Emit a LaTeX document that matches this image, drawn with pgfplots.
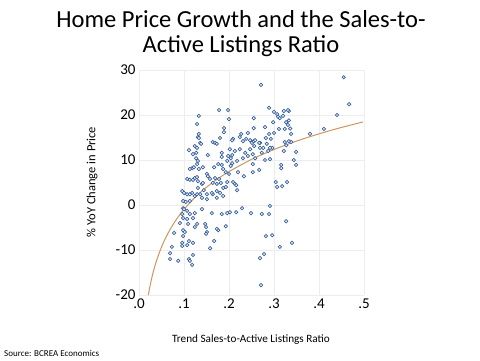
\documentclass[border=0pt]{standalone}
\usepackage{pgfplots}
\pgfplotsset{compat=1.18}
\usepackage{fontspec}
\setmainfont{Carlito}
\definecolor{ptblue}{RGB}{52,94,160}
\definecolor{trend}{RGB}{205,150,95}
\begin{document}
\begin{tikzpicture}
\path[use as bounding box] (0pt,0pt) rectangle (480pt,-360pt);
\node[font=\fontsize{24.5}{28}\selectfont] at (241pt,-19pt) {Home Price Growth and the Sales-to-};
\node[font=\fontsize{24.5}{28}\selectfont] at (241pt,-46pt) {Active Listings Ratio};
\node[font=\fontsize{12.5}{14}\selectfont, rotate=90] at (92pt,-182pt) {\% YoY Change in Price};
\node[font=\fontsize{11.2}{13}\selectfont] at (251pt,-340pt) {Trend Sales-to-Active Listings Ratio};
\node[font=\fontsize{9}{11}\selectfont, anchor=west, inner sep=0pt] at (4pt,-353pt) {Source: BCREA Economics};
\begin{axis}[
  at={(139pt,-295pt)}, anchor=south west,
  scale only axis, width=225pt, height=225pt,
  xmin=0, xmax=0.5, ymin=-20, ymax=30,
  xtick={0,0.1,0.2,0.3,0.4,0.5}, xticklabels={.0,.1,.2,.3,.4,.5},
  ytick={-20,-10,0,10,20,30}, yticklabels={-20,-10,0,10,20,30},
  axis line style={draw=none}, major tick length=0pt,
  grid=major, grid style={black!7, line width=0.5pt},
  tick label style={font=\fontsize{15}{18}\selectfont},
  clip=false,
]
\addplot[trend, line width=1pt, smooth] coordinates {
(0.0207,-20.02) (0.025,-17.74) (0.03,-15.53) (0.035,-13.66) (0.04,-12.05)
(0.05,-9.35) (0.06,-7.14) (0.07,-5.28) (0.08,-3.66) (0.09,-2.24) (0.1,-0.96)
(0.12,1.24) (0.14,3.11) (0.16,4.73) (0.18,6.15) (0.2,7.43) (0.25,10.13)
(0.3,12.33) (0.35,14.20) (0.4,15.81) (0.45,17.24) (0.498,18.46)};
\addplot[only marks, mark=*, mark size=1.7pt, mark options={draw=ptblue, fill=white, line width=0.7pt}] table {
x y
0.455 28.4
0.467 22.4
0.440 20.0
0.411 16.9
0.380 15.8
0.338 14.0
0.271 26.7
0.289 21.6
0.300 20.7
0.307 20.2
0.309 19.6
0.322 20.9
0.333 20.9
0.313 19.3
0.320 19.8
0.327 18.4
0.333 18.8
0.331 17.8
0.336 17.0
0.338 15.8
0.333 14.2
0.324 14.0
0.327 13.3
0.298 18.4
0.311 16.9
0.324 16.9
0.280 17.3
0.289 15.8
0.300 16.0
0.293 14.7
0.282 14.9
0.255 19.3
0.255 17.1
0.242 16.0
0.227 15.8
0.224 15.1
0.247 14.4
0.255 14.2
0.269 13.8
0.322 12.0
0.349 11.8
0.344 10.0
0.349 8.9
0.316 8.9
0.316 8.2
0.280 10.0
0.198 21.1
0.200 19.1
0.331 21.1
0.209 14.7
0.207 14.4
0.231 14.2
0.238 14.7
0.251 13.8
0.258 14.4
0.267 13.8
0.256 13.1
0.247 12.4
0.284 13.6
0.296 12.7
0.269 12.7
0.202 12.4
0.213 12.0
0.224 12.4
0.236 11.6
0.231 10.4
0.242 10.9
0.253 11.3
0.258 10.4
0.273 11.6
0.276 12.7
0.287 12.0
0.291 12.7
0.291 10.2
0.253 9.1
0.218 9.8
0.207 9.3
0.204 8.7
0.193 7.3
0.200 6.9
0.220 7.3
0.233 6.4
0.253 7.3
0.267 7.8
0.196 5.1
0.193 4.0
0.209 5.1
0.213 4.7
0.216 4.4
0.218 3.3
0.304 5.1
0.307 4.0
0.318 4.2
0.329 5.1
0.202 -1.6
0.216 -1.6
0.229 -0.7
0.249 -1.8
0.273 -2.0
0.289 -2.0
0.291 -0.2
0.327 -3.6
0.193 -4.7
0.198 10.9
0.204 10.4
0.207 11.1
0.282 -6.9
0.296 -6.7
0.313 -9.3
0.340 -8.4
0.278 -10.9
0.269 -11.8
0.271 -17.8
0.078 -6.2
0.098 -5.6
0.102 -6.0
0.098 -6.9
0.124 -4.9
0.149 -4.9
0.151 -6.0
0.149 -6.4
0.176 -5.6
0.167 -8.0
0.158 -9.6
0.073 -9.3
0.096 -8.4
0.096 -9.1
0.107 -8.9
0.111 -8.0
0.120 -8.4
0.069 -10.7
0.069 -12.0
0.087 -12.4
0.111 -12.0
0.113 -12.4
0.118 -13.3
0.120 -11.1
0.098 -0.7
0.100 -0.9
0.107 -1.3
0.096 -2.0
0.098 -2.9
0.107 -3.1
0.113 -2.0
0.124 -1.8
0.120 -2.9
0.109 -4.2
0.091 -4.0
0.129 -4.2
0.147 -4.2
0.162 -1.8
0.173 -5.3
0.184 -2.0
0.196 -1.8
0.140 -0.9
0.096 3.1
0.100 2.7
0.107 2.4
0.113 2.4
0.124 2.0
0.129 2.4
0.131 3.8
0.144 3.3
0.140 1.6
0.098 0.9
0.104 0.7
0.164 2.4
0.173 3.1
0.180 2.7
0.187 3.8
0.151 1.3
0.113 0.9
0.118 2.7
0.136 2.4
0.162 2.7
0.173 1.6
0.187 2.0
0.151 2.4
0.120 11.3
0.127 11.6
0.127 10.4
0.153 11.1
0.184 11.6
0.118 8.2
0.122 8.4
0.113 8.0
0.133 8.0
0.142 8.4
0.167 8.4
0.184 8.9
0.187 8.0
0.151 6.9
0.153 6.4
0.158 5.8
0.169 6.0
0.107 5.8
0.113 5.6
0.120 5.6
0.124 6.0
0.131 5.3
0.140 4.7
0.142 4.9
0.164 4.9
0.173 4.7
0.178 5.8
0.182 4.9
0.178 21.1
0.133 19.8
0.129 18.0
0.133 15.8
0.131 15.1
0.133 14.9
0.136 13.8
0.138 13.6
0.124 13.1
0.129 12.7
0.111 12.2
0.164 14.0
0.169 13.8
0.173 13.6
0.189 16.2
0.189 17.1
0.180 14.9
0.131 9.8
0.129 9.1
0.176 9.1
0.184 10.7
0.196 9.8
0.129 6.2
};
\end{axis}
\end{tikzpicture}
\end{document}
